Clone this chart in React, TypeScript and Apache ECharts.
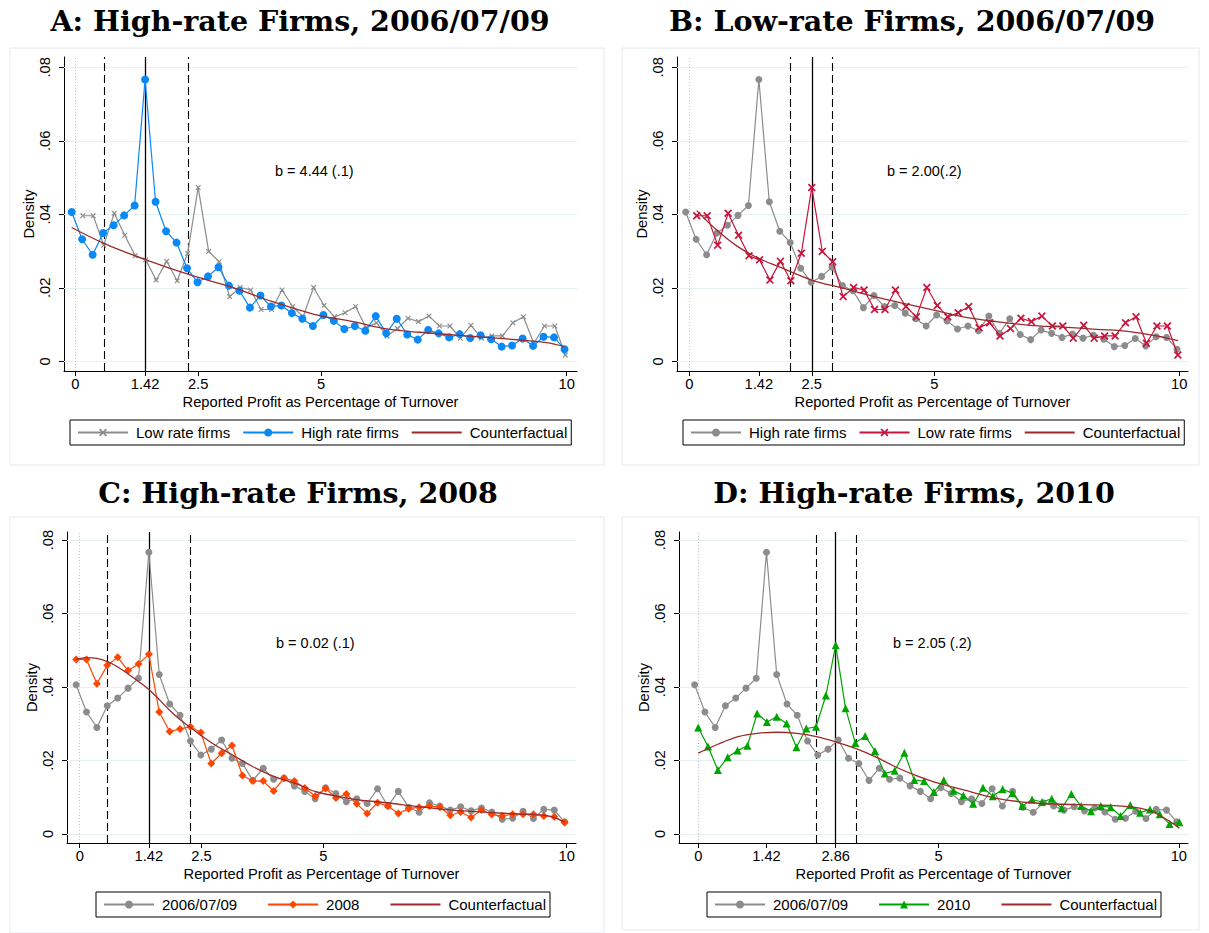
import React, { useEffect, useRef } from "react";
import * as echarts from "echarts";

// ---------- bin centres (x positions) ----------
const binsHigh = [
  -0.074, 0.139, 0.353, 0.566, 0.78, 0.993, 1.207, 1.42, 1.633, 1.847, 2.06, 2.274,
  2.487, 2.701, 2.914, 3.127, 3.341, 3.554, 3.768, 3.981, 4.194, 4.408, 4.621, 4.835,
  5.048, 5.261, 5.475, 5.688, 5.902, 6.115, 6.328, 6.542, 6.755, 6.969, 7.182, 7.395,
  7.609, 7.822, 8.036, 8.249, 8.462, 8.676, 8.889, 9.103, 9.316, 9.529, 9.743, 9.956,
];
const binsLow = [
  0.152, 0.365, 0.579, 0.792, 1.006, 1.219, 1.433, 1.646, 1.86, 2.073, 2.287, 2.5,
  2.714, 2.927, 3.141, 3.354, 3.568, 3.781, 3.995, 4.208, 4.422, 4.635, 4.849, 5.062,
  5.276, 5.489, 5.703, 5.916, 6.13, 6.343, 6.557, 6.77, 6.984, 7.197, 7.411, 7.624,
  7.838, 8.051, 8.265, 8.478, 8.692, 8.905, 9.119, 9.332, 9.546, 9.759, 9.973,
];
const bins2010 = [
  0, 0.204, 0.409, 0.613, 0.817, 1.022, 1.226, 1.43, 1.634, 1.839, 2.043, 2.247, 2.452,
  2.656, 2.86, 3.065, 3.269, 3.473, 3.677, 3.882, 4.086, 4.29, 4.495, 4.699, 4.903,
  5.108, 5.312, 5.516, 5.72, 5.925, 6.129, 6.333, 6.538, 6.742, 6.946, 7.151, 7.355,
  7.559, 7.763, 7.968, 8.172, 8.376, 8.581, 8.785, 8.989, 9.194, 9.398, 9.602, 9.806, 10.011,
];

// ---------- densities ----------
const highRate0609 = [
  0.0406, 0.0332, 0.029, 0.0349, 0.037, 0.0397, 0.0424, 0.0767, 0.0434, 0.0354,
  0.0323, 0.0253, 0.0215, 0.0231, 0.0256, 0.0206, 0.0192, 0.0146, 0.0179, 0.0149,
  0.0152, 0.0131, 0.0116, 0.0096, 0.0126, 0.011, 0.0088, 0.0096, 0.0083, 0.0123,
  0.0076, 0.0116, 0.0073, 0.0059, 0.0085, 0.0076, 0.0065, 0.0074, 0.0063, 0.0071,
  0.006, 0.004, 0.0043, 0.0062, 0.0042, 0.0067, 0.0065, 0.0033,
];
const lowRate0609 = [
  0.0396, 0.0396, 0.0316, 0.0403, 0.0343, 0.0287, 0.0276, 0.0221, 0.0272, 0.0219,
  0.0294, 0.0473, 0.0299, 0.0271, 0.0176, 0.0201, 0.0194, 0.0141, 0.0141, 0.0194,
  0.0149, 0.0121, 0.0201, 0.0152, 0.0121, 0.0132, 0.0149, 0.0091, 0.0105, 0.0069,
  0.0089, 0.0117, 0.0108, 0.0123, 0.0096, 0.0096, 0.0063, 0.0098, 0.0063, 0.0069,
  0.0069, 0.0105, 0.0121, 0.0049, 0.0096, 0.0096, 0.0017,
];
const highRate2008 = [
  0.0475, 0.0475, 0.0409, 0.0459, 0.0481, 0.0445, 0.0463, 0.0489, 0.0332, 0.0279,
  0.0286, 0.0292, 0.0276, 0.0192, 0.022, 0.0241, 0.0159, 0.0144, 0.0144, 0.0117,
  0.0152, 0.0144, 0.0125, 0.0103, 0.0124, 0.0098, 0.0109, 0.0082, 0.0056, 0.0085,
  0.0076, 0.0056, 0.0069, 0.0073, 0.0076, 0.0073, 0.0051, 0.006, 0.0045, 0.0065,
  0.0053, 0.0049, 0.0054, 0.0054, 0.0054, 0.0049, 0.0047, 0.0031,
];
const highRate2010 = [
  0.029, 0.0238, 0.0174, 0.0209, 0.0227, 0.024, 0.0328, 0.0305, 0.0319, 0.0301,
  0.0236, 0.0287, 0.0292, 0.0377, 0.0514, 0.0342, 0.0248, 0.0267, 0.0226, 0.0165,
  0.0172, 0.0221, 0.0147, 0.0144, 0.0114, 0.0146, 0.0118, 0.0105, 0.0082, 0.0126,
  0.0103, 0.0122, 0.0111, 0.0076, 0.0094, 0.0087, 0.0096, 0.007, 0.0109, 0.0076,
  0.0062, 0.0076, 0.0073, 0.0049, 0.0079, 0.0058, 0.0067, 0.0054, 0.0027, 0.0032,
];

// ---------- counterfactual curves ----------
const cfAx = [-0.074, 0.58, 1.44, 2.29, 3.15, 4.0, 4.86, 5.66, 6.34, 7.01, 7.69, 8.37, 9.05, 9.59, 9.956];
const cfAy = [0.0364, 0.0321, 0.0276, 0.0237, 0.0203, 0.0163, 0.0128, 0.0108, 0.0088, 0.0079, 0.0072, 0.0065, 0.0058, 0.0051, 0.004];
const cfBx = [0.152, 0.56, 0.99, 1.42, 1.85, 2.5, 3.13, 3.78, 4.42, 5.06, 5.59, 6.27, 6.95, 7.63, 8.31, 8.99, 9.54, 9.973];
const cfBy = [0.041, 0.0357, 0.0312, 0.028, 0.0256, 0.0221, 0.0199, 0.0176, 0.0156, 0.0137, 0.0121, 0.0108, 0.0098, 0.0093, 0.0087, 0.0081, 0.0069, 0.0056];
const cfCx = [-0.074, 0.14, 0.35, 0.57, 0.79, 1.0, 1.22, 1.43, 1.64, 1.85, 2.07, 2.29, 2.72, 3.14, 3.56, 4.0, 4.43, 4.85, 5.62, 6.3, 6.99, 7.67, 8.36, 9.04, 9.59, 9.956];
const cfCy = [0.0475, 0.048, 0.0478, 0.0469, 0.0454, 0.0435, 0.0414, 0.0392, 0.0365, 0.0336, 0.031, 0.0288, 0.0247, 0.0215, 0.0183, 0.0156, 0.0138, 0.0115, 0.0095, 0.0085, 0.0074, 0.0065, 0.0059, 0.0054, 0.005, 0.0033];
const cfDx = [0, 0.42, 0.83, 1.23, 1.65, 2.05, 2.46, 2.86, 3.27, 3.69, 4.1, 4.51, 4.9, 5.52, 6.21, 6.91, 7.6, 8.29, 8.99, 9.33, 9.68, 10.01];
const cfDy = [0.022, 0.0245, 0.0265, 0.0274, 0.0277, 0.0274, 0.0265, 0.0251, 0.0233, 0.021, 0.0183, 0.016, 0.0142, 0.012, 0.0097, 0.0085, 0.0081, 0.0079, 0.0074, 0.0066, 0.0045, 0.0016];

// ---------- ticks & reference lines ----------
const yTicks = [0, 0.02, 0.04, 0.06, 0.08];
const xTicksABC = [0, 1.42, 2.5, 5, 10];
const xTicksD = [0, 1.42, 2.86, 5, 10];
const solidA = 1.42, dashedA = [0.58, 2.3];
const solidB = 2.5, dashedB = [2.07, 2.92];
const solidC = 1.42, dashedC = [0.57, 2.27];
const solidD = 2.86, dashedD = [2.46, 3.28];

const titles = [
  "A: High-rate Firms, 2006/07/09",
  "B: Low-rate Firms, 2006/07/09",
  "C: High-rate Firms, 2008",
  "D: High-rate Firms, 2010",
];
const bTexts = ["b = 4.44 (.1)", "b = 2.00(.2)", "b = 0.02 (.1)", "b = 2.05 (.2)"];
const xTitle = "Reported Profit as Percentage of Turnover";

const legendLabels: Record<string, string> = {
  A_low: "Low rate firms",
  A_high: "High rate firms",
  A_cf: "Counterfactual",
  B_high: "High rate firms",
  B_low: "Low rate firms",
  B_cf: "Counterfactual",
  C_base: "2006/07/09",
  C_2008: "2008",
  C_cf: "Counterfactual",
  D_base: "2006/07/09",
  D_2010: "2010",
  D_cf: "Counterfactual",
};

const SANS = "'Liberation Sans', Arial, Helvetica, sans-serif";
const SERIF = "'DejaVu Serif', serif";
const GREY = "#8c8c8c";
const BLUE = "#0a88f5";
const CRIMSON = "#c8143c";
const ORANGE = "#ff4500";
const GREEN = "#00a400";
const MAROON = "#9b2a2a";
const XMARK = "path://M0,1.5L1.5,0L5,3.5L8.5,0L10,1.5L6.5,5L10,8.5L8.5,10L5,6.5L1.5,10L0,8.5L3.5,5Z";

const zip = (xs: number[], ys: number[]) => xs.map((x, i) => [x, ys[i]]);

function buildOption() {
  const grids = [
    { left: 64, top: 57, width: 513, height: 314 },
    { left: 677, top: 57, width: 511, height: 314 },
    { left: 67, top: 532, width: 509, height: 311 },
    { left: 679, top: 532, width: 509, height: 311 },
  ];
  const xr = [
    [-0.23, 10.21],
    [-0.251, 10.18],
    [-0.261, 10.19],
    [-0.4, 10.19],
  ];
  const yr = [
    [-0.00264, 0.0828],
    [-0.00264, 0.0828],
    [-0.00245, 0.0822],
    [-0.00245, 0.0822],
  ];
  const xTicks = [xTicksABC, xTicksABC, xTicksABC, xTicksD];
  const AX = 14.7;

  const xAxis = grids.map((_, i) => ({
    type: "value",
    gridIndex: i,
    min: xr[i][0],
    max: xr[i][1],
    axisLine: { show: true, onZero: false, lineStyle: { color: "#000", width: 1 } },
    axisTick: { show: true, length: 5, customValues: xTicks[i], lineStyle: { color: "#000" } },
    axisLabel: { customValues: xTicks[i], margin: 5, fontSize: AX, color: "#000", fontFamily: SANS },
    splitLine: { show: false },
    name: xTitle,
    nameLocation: "middle",
    nameGap: 23,
    nameTextStyle: { fontSize: AX, color: "#000", fontFamily: SANS },
  }));
  const yAxis = grids.map((_, i) => ({
    type: "value",
    gridIndex: i,
    min: yr[i][0],
    max: yr[i][1],
    axisLine: { show: true, onZero: false, lineStyle: { color: "#000", width: 1 } },
    axisTick: { show: true, length: 5, customValues: yTicks, lineStyle: { color: "#000" } },
    axisLabel: {
      customValues: yTicks,
      rotate: 90,
      margin: 12,
      fontSize: AX,
      color: "#000",
      fontFamily: SANS,
      formatter: (v: number) => (v === 0 ? "0" : v.toFixed(2).replace(/^0/, "")),
    },
    splitLine: { show: false },
    name: "Density",
    nameLocation: "middle",
    nameGap: 27,
    nameRotate: 90,
    nameTextStyle: { fontSize: AX, color: "#000", fontFamily: SANS },
  }));

  const refSeries = (i: number, solid: number, dashed: number[]) => ({
    type: "line",
    name: "ref" + i,
    xAxisIndex: i,
    yAxisIndex: i,
    data: [],
    z: 1,
    silent: true,
    markLine: {
      silent: true,
      symbol: "none",
      z: 1,
      label: { show: false },
      emphasis: { disabled: true },
      data: [
        ...yTicks.map((v) => ({ yAxis: v, lineStyle: { color: "#e6eff1", width: 1.2, type: "solid" } })),
        { xAxis: 0, lineStyle: { color: "#c4c4c4", width: 1, type: [1, 2] } },
        ...dashed.map((v) => ({ xAxis: v, lineStyle: { color: "#000", width: 1.1, type: [8, 4] } })),
        { xAxis: solid, lineStyle: { color: "#000", width: 1.3, type: "solid" } },
      ],
    },
  });

  const pointSeries = (
    name: string,
    i: number,
    xs: number[],
    ys: number[],
    color: string,
    symbol: string,
    size: number,
    z: number
  ) => ({
    type: "line",
    name,
    xAxisIndex: i,
    yAxisIndex: i,
    data: zip(xs, ys),
    symbol,
    symbolSize: size,
    showSymbol: true,
    z,
    lineStyle: { color, width: 1.2 },
    itemStyle: { color, opacity: 1 },
    emphasis: { disabled: true },
  });

  const cfSeries = (name: string, i: number, xs: number[], ys: number[]) => ({
    type: "line",
    name,
    xAxisIndex: i,
    yAxisIndex: i,
    data: zip(xs, ys),
    symbol: "none",
    smooth: 0.35,
    z: 6,
    lineStyle: { color: MAROON, width: 1.3 },
    itemStyle: { color: MAROON },
    emphasis: { disabled: true },
  });

  const series = [
    refSeries(0, solidA, dashedA),
    refSeries(1, solidB, dashedB),
    refSeries(2, solidC, dashedC),
    refSeries(3, solidD, dashedD),
    pointSeries("A_low", 0, binsLow, lowRate0609, GREY, XMARK, 5.5, 3),
    pointSeries("A_high", 0, binsHigh, highRate0609, BLUE, "circle", 8, 4),
    cfSeries("A_cf", 0, cfAx, cfAy),
    pointSeries("B_high", 1, binsHigh, highRate0609, GREY, "circle", 7, 3),
    pointSeries("B_low", 1, binsLow, lowRate0609, CRIMSON, XMARK, 8, 4),
    cfSeries("B_cf", 1, cfBx, cfBy),
    pointSeries("C_base", 2, binsHigh, highRate0609, GREY, "circle", 7, 3),
    pointSeries("C_2008", 2, binsHigh, highRate2008, ORANGE, "diamond", 8, 4),
    cfSeries("C_cf", 2, cfCx, cfCy),
    pointSeries("D_base", 3, binsHigh, highRate0609, GREY, "circle", 7, 3),
    pointSeries("D_2010", 3, bins2010, highRate2010, GREEN, "triangle", 8, 4),
    cfSeries("D_cf", 3, cfDx, cfDy),
  ];

  const legendPos = [
    { left: 70, top: 420, gap: 12, names: ["A_low", "A_high", "A_cf"] },
    { left: 683, top: 420, gap: 12, names: ["B_high", "B_low", "B_cf"] },
    { left: 96, top: 892, gap: 30, names: ["C_base", "C_2008", "C_cf"] },
    { left: 707, top: 892, gap: 30, names: ["D_base", "D_2010", "D_cf"] },
  ];
  const legend = legendPos.map((l) => ({
    left: l.left,
    top: l.top,
    orient: "horizontal",
    selectedMode: false,
    data: l.names.map((n) =>
      n.endsWith("_cf") ? { name: n, itemStyle: { opacity: 0 } } : { name: n }
    ),
    itemWidth: 50,
    itemHeight: 10,
    itemGap: l.gap,
    padding: [5, 4, 5, 7],
    borderColor: "#000",
    borderWidth: 1,
    textStyle: { fontSize: 15, color: "#000", fontFamily: SANS, padding: [0, 0, 0, 3] },
    formatter: (n: string) => legendLabels[n] || n,
  }));

  const frames = [
    [10, 48, 594, 417],
    [622, 48, 577, 417],
    [10, 517, 594, 416],
    [622, 517, 577, 413],
  ];
  const titlePos = [
    [300, 21],
    [912, 21],
    [298, 493],
    [914, 493],
  ];
  const bPos = [
    [275, 171],
    [887, 171],
    [276, 643],
    [893, 643],
  ];
  const graphic: any[] = [];
  frames.forEach((f) =>
    graphic.push({
      type: "rect",
      silent: true,
      z: -10,
      shape: { x: f[0], y: f[1], width: f[2], height: f[3] },
      style: { fill: "none", stroke: "#e2eaec", lineWidth: 1 },
    })
  );
  titles.forEach((t, i) =>
    graphic.push({
      type: "text",
      silent: true,
      x: titlePos[i][0],
      y: titlePos[i][1],
      style: {
        text: t,
        fill: "#000",
        font: `bold 28.5px ${SERIF}`,
        textAlign: "center",
        textVerticalAlign: "middle",
      },
    })
  );
  bTexts.forEach((t, i) =>
    graphic.push({
      type: "text",
      silent: true,
      x: bPos[i][0],
      y: bPos[i][1],
      style: {
        text: t,
        fill: "#000",
        font: `14.5px ${SANS}`,
        textAlign: "left",
        textVerticalAlign: "middle",
      },
    })
  );

  return {
    animation: false,
    backgroundColor: "#fff",
    grid: grids,
    xAxis,
    yAxis,
    legend,
    series,
    graphic,
  };
}

export default function App() {
  const ref = useRef<HTMLDivElement>(null);
  useEffect(() => {
    if (!ref.current) return;
    const chart = echarts.init(ref.current, undefined, { renderer: "svg" });
    chart.setOption(buildOption() as any);
    return () => chart.dispose();
  }, []);
  return (
    <div
      ref={ref}
      style={{ position: "absolute", left: 0, top: 0, width: 1209, height: 933, background: "#fff" }}
    />
  );
}
